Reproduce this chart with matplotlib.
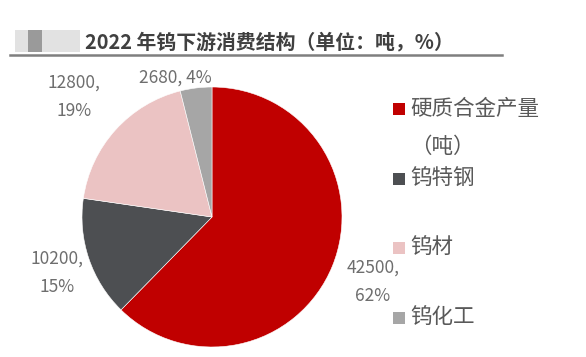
import matplotlib
matplotlib.use("Agg")
import matplotlib.pyplot as plt
from matplotlib.patches import Rectangle
from matplotlib.lines import Line2D

plt.rcParams['font.family'] = ['Noto Sans CJK SC', 'DejaVu Sans']

categories = ["硬质合金产量\n（吨）", "钨特钢", "钨材", "钨化工"]
values = [42500, 10200, 12800, 2680]
pcts = ["62%", "15%", "19%", "4%"]
colors = ["#C00000", "#4D4F52", "#EBC3C3", "#A6A6A6"]
title = "2022 年钨下游消费结构（单位：吨，%）"

W, H = 586, 357
fig = plt.figure(figsize=(W / 100, H / 100), dpi=100)

def fx(px):
    return px / W

def fy(py):
    return 1 - py / H

# pie axes: center (212,217), radius 130
cx, cy, r = 212, 217, 130
ax = fig.add_axes([fx(cx - r), fy(cy + r), 2 * r / W, 2 * r / H])
wedges, _ = ax.pie(values, colors=colors, startangle=90, counterclock=False,
                   radius=1, wedgeprops=dict(edgecolor="white", linewidth=0.4))
ax.set_xlim(-1, 1)
ax.set_ylim(-1, 1)
ax.set_aspect('auto')
ax.axis('off')

# data labels
label_pos = [(373, 282), (57, 273), (74, 97), (175, 78)]
txtc = "#6E6E6E"
for i, (v, p) in enumerate(zip(values, pcts)):
    x, y = label_pos[i]
    if i == 3:
        s = f"{v}, {p}"
    else:
        s = f"{v},\n{p}"
    fig.text(fx(x), fy(y), s, ha='center', va='center', fontsize=12.5,
             color=txtc, linespacing=1.7)

# title
fig.text(fx(85), fy(42), title, ha='left', va='center', fontsize=14.3,
         fontweight='bold', color="#404040")
fig.add_artist(Line2D([fx(10), fx(502)], [fy(55), fy(55)], color="#7F7F7F",
                      linewidth=1.8, transform=fig.transFigure))
# blurred logo placeholder
fig.add_artist(Rectangle((fx(15), fy(52)), 65 / W, 22 / H, color="#E2E2E2",
                         transform=fig.transFigure, lw=0))
fig.add_artist(Rectangle((fx(28), fy(52)), 14 / W, 22 / H, color="#9A9A9A",
                         transform=fig.transFigure, lw=0))

# legend
leg_y = [109, 179, 248, 318]
for i, (lab, col) in enumerate(zip(categories, wedges)):
    y = leg_y[i]
    fig.add_artist(Rectangle((fx(393), fy(y + 6)), 12 / W, 12 / H,
                             color=col.get_facecolor(), transform=fig.transFigure, lw=0))
    lines = lab.split("\n")
    for j, ln in enumerate(lines):
        fig.text(fx(410), fy(y + 38 * j), ln, ha='left', va='center',
                 fontsize=15.5, color="#595959")

fig.savefig("out.png", dpi=100)
